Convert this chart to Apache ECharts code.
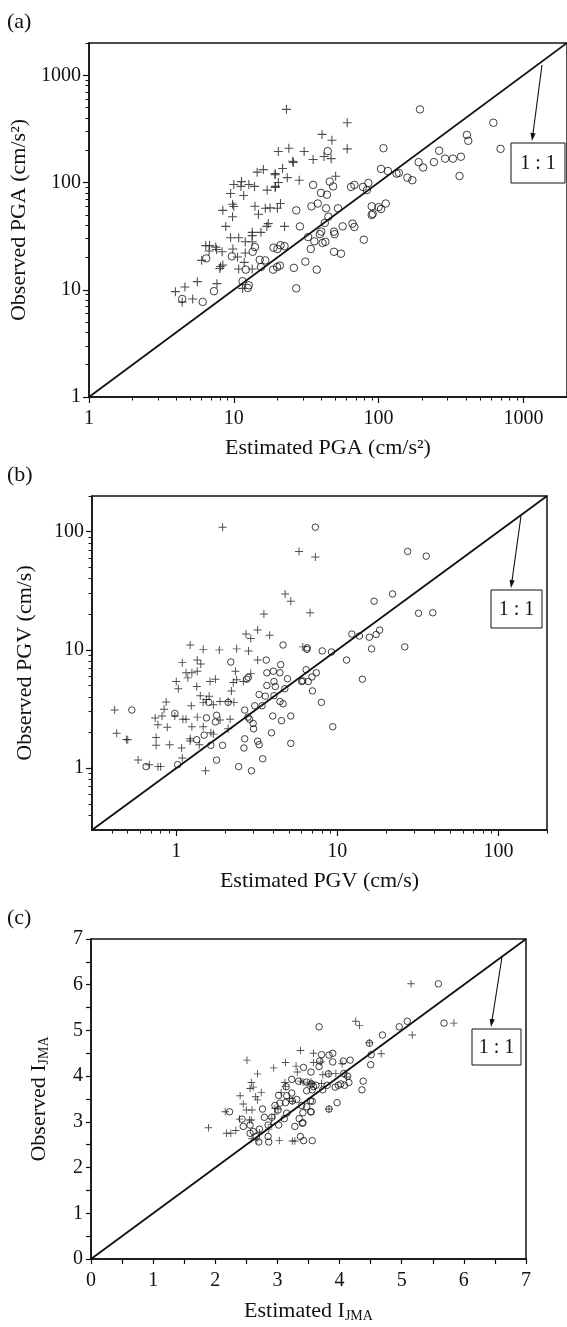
<!DOCTYPE html>
<html>
<head>
<meta charset="utf-8">
<script src="https://cdn.jsdelivr.net/npm/echarts@6.0.0/dist/echarts.min.js"></script>
<style>
html, body { margin: 0; padding: 0; background: #fff; }
#chart { width: 567px; height: 1327px; }
</style>
</head>
<body>
<div id="chart"></div>
<script>
// (a) PGA, cm/s^2  [estimated, observed]
var pgaCross = [
  [23.1,481],[40.7,281],[60.7,361],[47.6,248],[60.7,206],[20.3,195],[24,209],[30.6,195],[35.3,164],[42,175],
  [47,167],[25.8,154],[25.5,158],[21.7,135],[14.5,125],[16,132],[19.3,121],[19.3,118],[23.4,111],[28.3,105],
  [20.3,100],[19.4,92],[19.3,90],[11.3,102],[10,96],[11.2,92],[12.7,96],[13.9,92],[9.5,79],[11.7,75.6],
  [17,85],[50.5,114.6],[8.4,55],[9.8,62.7],[10,59.7],[9.8,48],[14,60],[14.8,50.6],[16.5,57.5],[17.8,58],
  [20,57.5],[21,63.7],[8.8,39],[17.3,41.4],[16.9,39],[22.4,39],[15.4,34.3],[13.4,34.3],[13.4,32],[9.5,30.6],
  [10.8,30.6],[12,28],[13.4,28],[6.4,25.8],[6.8,25.8],[7.5,25],[7.6,23.7],[8.3,22.6],[6.75,23],[9.85,24],
  [12,22],[10.6,20.2],[11.8,18],[6.0,18.8],[13.4,15.6],[10.8,15.6],[8.1,16.5],[8.4,17],[8.0,15.8],[5.6,11.9],
  [7.65,11.4],[4.6,10.6],[3.95,9.6],[5.2,8.2],[4.4,7.7],[11.5,10.3]
];
var pgaCircle = [
  [193,481],[620,361],[407,278],[416,245],[695,206],[108,209],[44.5,196],[262,198],[189,155],[203,138],
  [241,155],[288,167],[326,167],[370,174],[362,115],[104,134],[116,128],[133,121],[138,123],[158,111],
  [171,105],[35.3,95],[46,102],[48.5,92],[40,80],[44,77],[64.5,91],[68,95],[78,91],[85,99],
  [83,85],[34.4,60],[38,63.7],[43.4,57.5],[52.4,57.5],[89.6,60],[100,59],[112,63.7],[91,51],[27,55],
  [45,48],[104,56.6],[89.6,49.8],[28.6,39],[42.5,42],[32.6,31],[40.2,34.8],[39.3,33],[36,28.3],[41,27.3],
  [42.9,28],[34,24],[31.2,18.3],[37.4,15.4],[49.2,34.8],[49.7,33],[56.5,39],[66,41.4],[68,38.5],[49.2,22.6],
  [55,21.7],[79,29.3],[27,10.3],[18.8,24.7],[20,24],[21,26],[22.4,25.5],[26,16],[18.7,15.4],[19.9,16.3],
  [20.8,16.8],[15.1,19],[16.5,18.8],[15.4,16.3],[13.5,22.6],[14,25],[9.7,20.5],[6.45,19.6],[12.1,15.4],[11.5,12],
  [12.7,11],[12.5,10.4],[7.3,9.7],[6.1,7.7],[4.4,8.2]
];

// (b) PGV, cm/s
var pgvCross = [
  [1.94,109],[5.78,68],[7.3,61],[4.74,29.7],[5.14,25.8],[3.5,20.1],[6.77,20.6],[2.71,13.6],[2.9,12.5],[3.2,14.7],
  [3.8,13.3],[1.22,11.0],[1.47,10.1],[1.85,10],[2.37,10.2],[6.1,10.6],[2.81,9.8],[1.09,7.8],[1.35,8.2],[1.42,7.6],
  [3.2,8.2],[1.15,6.4],[1.25,6.4],[1.35,6.6],[1.18,5.8],[2.33,6.6],[1.0,5.4],[1.03,4.7],[1.62,5.4],[1.75,5.65],
  [2.26,5.3],[2.37,5.6],[2.61,5.4],[2.9,6.3],[1.34,4.9],[2.2,4.5],[1.41,4.1],[1.6,4.06],[1.24,3.37],[1.47,3.6],
  [1.7,3.43],[1.87,3.66],[2.1,3.66],[2.28,3.6],[1.54,3.8],[0.866,3.63],[0.84,3.15],[0.415,3.1],[0.74,2.66],[0.816,2.76],
  [0.77,2.33],[0.88,2.22],[0.75,1.82],[0.98,2.76],[1.1,2.59],[1.15,2.59],[1.35,2.7],[1.25,2.24],[1.47,2.24],[1.64,1.99],
  [1.7,1.94],[1.22,1.77],[1.22,1.7],[1.39,1.58],[2.16,2.59],[2.1,2.15],[1.87,2.55],[0.427,1.97],[0.49,1.75],[0.5,1.74],
  [0.75,1.56],[0.91,1.58],[1.08,1.48],[0.58,1.17],[0.68,1.07],[0.77,1.03],[0.8,1.03],[1.09,1.22],[1.52,0.95]
];
var pgvCircle = [
  [7.3,109],[4.6,11],[6.5,10.4],[27.3,68],[35.6,62],[22,29.7],[16.9,25.8],[31.9,20.4],[39.1,20.6],[12.3,13.6],
  [13.7,13.1],[15.8,12.8],[17.4,13.5],[18.3,14.7],[16.3,10.2],[26.2,10.6],[6.47,10.1],[8.05,9.8],[9.2,9.6],[11.4,8.2],
  [6.4,6.8],[7.4,6.4],[6.6,5.4],[6.0,5.4],[7.0,4.5],[7.96,3.6],[14.3,5.65],[9.36,2.24],[0.53,3.1],[0.65,1.03],
  [1.02,1.07],[0.98,2.9],[1.54,2.66],[1.78,2.8],[1.75,2.46],[1.59,3.6],[2.1,3.6],[2.18,7.9],[3.62,8.2],[3.65,6.4],
  [4.0,6.6],[4.45,7.5],[4.4,6.4],[2.74,5.65],[2.8,5.86],[4.04,5.4],[3.65,5.0],[4.12,4.9],[4.72,4.7],[4.9,5.7],
  [3.27,4.2],[3.57,4.06],[4.04,4.1],[4.4,3.66],[4.6,3.5],[3.07,3.37],[3.41,3.37],[2.66,3.1],[2.85,2.59],[3.0,2.39],
  [3.02,2.15],[2.79,2.7],[3.97,2.76],[4.5,2.52],[5.14,2.76],[3.9,1.99],[2.66,1.77],[2.63,1.48],[3.2,1.69],[3.27,1.58],
  [5.14,1.62],[3.44,1.2],[2.44,1.03],[2.93,0.95],[1.34,1.74],[1.49,1.9],[1.64,1.56],[1.94,1.56],[1.78,1.17],[6.95,5.9],
  [6.1,5.47]
];

// (c) JMA seismic intensity
var jmaCross = [
  [3.37,4.56],[3.58,4.5],[3.58,4.3],[2.51,4.35],[2.68,4.05],[2.94,4.18],[3.13,4.3],[3.3,4.22],[3.32,4.09],[3.12,3.86],
  [2.58,3.86],[2.61,3.76],[2.56,3.73],[2.74,3.64],[2.65,3.55],[2.68,3.48],[2.4,3.57],[2.45,3.39],[2.5,3.26],[2.59,3.26],
  [2.58,3.04],[2.55,3.04],[2.16,3.22],[2.39,3.06],[1.89,2.87],[2.18,2.75],[2.25,2.75],[2.33,2.81],[2.59,2.63],[2.67,2.6],
  [2.71,2.76],[2.86,2.84],[2.9,2.94],[2.91,3.07],[2.96,3.29],[3.01,3.28],[2.96,3.17],[3.03,2.59],[3.24,2.58],[3.28,2.58],
  [3.06,3.64],[3.13,3.77],[3.19,3.51],[3.24,3.45],[3.37,3.89],[3.41,3.87],[3.54,3.87],[3.56,3.83],[5.15,6.02],[5.84,5.16],
  [4.26,5.2],[4.32,5.11],[5.17,4.9],[4.67,4.49],[3.7,4.31],[3.73,4.03],[3.83,4.05],[3.71,3.84],[3.94,4.06],[4.04,4.27],
  [4.11,3.98],[3.48,3.83],[3.83,3.28],[4.48,4.73]
];
var jmaCircle = [
  [3.42,4.19],[3.54,4.09],[3.23,3.93],[3.34,3.89],[3.47,3.87],[3.47,3.68],[3.58,3.77],[3.14,3.77],[3.02,3.58],[3.15,3.57],
  [3.23,3.63],[3.04,3.41],[2.96,3.36],[3.01,3.26],[3.13,3.42],[3.24,3.46],[3.31,3.49],[3.39,3.36],[3.47,3.33],[3.56,3.45],
  [3.15,3.19],[3.35,3.07],[3.41,2.98],[3.54,3.22],[3.28,2.9],[3.11,3.07],[3.02,2.93],[2.91,3.1],[2.76,3.28],[2.79,3.1],
  [2.85,2.93],[2.85,2.68],[2.86,2.56],[2.7,2.56],[2.66,2.68],[2.43,3.06],[2.45,2.9],[2.56,2.93],[2.56,2.75],[2.61,2.79],
  [2.71,2.84],[2.23,3.22],[3.42,2.59],[3.56,2.59],[5.59,6.02],[5.68,5.16],[3.67,5.08],[4.96,5.08],[5.09,5.2],[4.69,4.9],
  [4.48,4.72],[4.51,4.47],[4.5,4.25],[4.06,4.33],[4.17,4.35],[3.89,4.5],[3.89,4.31],[3.71,4.47],[3.68,4.33],[3.83,4.46],
  [3.67,4.21],[3.82,4.05],[4.07,4.06],[4.13,4.0],[3.98,3.8],[4.08,3.8],[3.93,3.76],[4.02,3.83],[4.15,3.86],[3.55,3.83],
  [3.62,3.8],[3.56,3.7],[3.73,3.7],[3.8,3.8],[4.38,3.89],[4.36,3.7],[3.96,3.42],[3.83,3.28],[3.53,3.46],[3.41,3.2],
  [3.54,3.22],[3.4,2.97],[3.37,2.68]
];

// axis ranges and ticks
var pgaRange = [1, 2000];
var pgvRange = [0.3, 200];
var jmaRange = [0, 7];
var pgaMajor = [1, 10, 100, 1000];
var pgaMinor = [2,3,4,5,6,7,8,9,20,30,40,50,60,70,80,90,200,300,400,500,600,700,800,900,2000];
var pgvMajor = [1, 10, 100];
var pgvMinor = [0.4,0.5,0.6,0.7,0.8,0.9,2,3,4,5,6,7,8,9,20,30,40,50,60,70,80,90,200];

var chart = echarts.init(document.getElementById('chart'));
var FONT = '"Liberation Serif", "Times New Roman", serif';
var INK = '#111';
var crossPath = 'path://M0,4.4H10V5.6H0Z M4.4,0H5.6V10H4.4Z';

function majorAxis(grid, range, major, name, gap, isY) {
    return {
        type: 'log', logBase: 10, gridIndex: grid, min: range[0], max: range[1],
        position: isY ? 'left' : 'bottom',
        name: name, nameLocation: 'middle', nameGap: gap,
        nameTextStyle: { fontFamily: FONT, fontSize: 22, color: INK },
        axisLine: { lineStyle: { color: INK, width: 1.5 } },
        axisTick: { customValues: major, length: 6, lineStyle: { color: INK, width: 1.2 } },
        axisLabel: { customValues: major, fontFamily: FONT, fontSize: 20, color: INK, margin: isY ? 8 : 12,
                     formatter: function (v) { return String(v); } },
        splitLine: { show: false }
    };
}
// second axis on the same grid, only used for the 2..9 ticks
function minorAxis(grid, range, minorTicks, isY) {
    return {
        type: 'log', logBase: 10, gridIndex: grid, min: range[0], max: range[1],
        position: isY ? 'left' : 'bottom', offset: 0,
        axisLine: { show: false },
        axisTick: { customValues: minorTicks, length: 3.5, lineStyle: { color: INK, width: 1 } },
        axisLabel: { show: false },
        splitLine: { show: false }
    };
}
function linearAxis(grid, name, gap, isY) {
    return {
        type: 'value', gridIndex: grid, min: jmaRange[0], max: jmaRange[1], interval: 1,
        position: isY ? 'left' : 'bottom',
        name: name, nameLocation: 'middle', nameGap: gap,
        nameTextStyle: { fontFamily: FONT, fontSize: 22, color: INK,
                         rich: { s: { fontFamily: FONT, fontSize: 14, color: INK, padding: [10, 0, 0, 0] } } },
        axisLine: { lineStyle: { color: INK, width: 1.5 } },
        axisTick: { length: 5, lineStyle: { color: INK, width: 1.2 } },
        minorTick: { show: true, splitNumber: 2, length: 5, lineStyle: { color: INK, width: 1.2 } },
        axisLabel: { fontFamily: FONT, fontSize: 20, color: INK, margin: isY ? 8 : 12 },
        splitLine: { show: false }
    };
}

function crosses(data, ax, size) {
    return { type: 'scatter', xAxisIndex: ax, yAxisIndex: ax, data: data, symbol: crossPath,
             symbolSize: size, itemStyle: { color: '#222' }, silent: true };
}
function circles(data, ax, size) {
    return { type: 'scatter', xAxisIndex: ax, yAxisIndex: ax, data: data, symbol: 'circle',
             symbolSize: size, itemStyle: { color: 'rgba(0,0,0,0)', borderColor: '#111', borderWidth: 1 }, silent: true };
}
function oneToOne(range, ax) {
    return { type: 'line', xAxisIndex: ax, yAxisIndex: ax, data: [[range[0], range[0]], [range[1], range[1]]],
             showSymbol: false, symbol: 'none', silent: true, lineStyle: { color: INK, width: 1.8 } };
}

function arrow(x1, y1, x2, y2) {
    var a = Math.atan2(y2 - y1, x2 - x1), L = 8, W = 2.6;
    var c = Math.cos(a), s = Math.sin(a);
    return [
        { type: 'line', shape: { x1: x1, y1: y1, x2: x2 - L * c * 0.6, y2: y2 - L * s * 0.6 }, style: { stroke: INK, lineWidth: 1.1 } },
        { type: 'polygon', shape: { points: [[x2, y2], [x2 - L * c + W * s, y2 - L * s - W * c], [x2 - L * c - W * s, y2 - L * s + W * c]] },
          style: { fill: INK } }
    ];
}
function ratioBox(x, y, w, h) {
    return [
        { type: 'rect', shape: { x: x, y: y, width: w, height: h }, style: { fill: '#fff', stroke: INK, lineWidth: 1 } },
        { type: 'text', x: x + w / 2, y: y + h / 2 + 1,
          style: { text: '1 : 1', font: '20px ' + FONT, fill: INK, textAlign: 'center', textVerticalAlign: 'middle' } }
    ];
}
function panelTag(t, x, y) {
    return { type: 'text', x: x, y: y, style: { text: t, font: '22px ' + FONT, fill: INK, textVerticalAlign: 'middle' } };
}

var graphics = [panelTag('(a)', 7, 22), panelTag('(b)', 7, 475), panelTag('(c)', 7, 918)]
    .concat(arrow(542, 65, 532, 141), ratioBox(511, 143, 54, 40))
    .concat(arrow(521, 516, 511, 588), ratioBox(491, 590, 51, 38))
    .concat(arrow(502, 957, 491, 1027), ratioBox(472, 1029, 49, 36));

var option = {
    backgroundColor: '#fff',
    animation: false,
    grid: [
        { left: 89, top: 43, width: 482, height: 354, show: true, borderColor: INK, borderWidth: 1.5, backgroundColor: 'transparent' },
        { left: 92, top: 496, width: 455, height: 334, show: true, borderColor: INK, borderWidth: 1.5, backgroundColor: 'transparent' },
        { left: 91, top: 939, width: 435, height: 320, show: true, borderColor: INK, borderWidth: 1.5, backgroundColor: 'transparent' }
    ],
    xAxis: [
        majorAxis(0, pgaRange, pgaMajor, 'Estimated PGA (cm/s²)', 40, false),
        minorAxis(0, pgaRange, pgaMinor, false),
        majorAxis(1, pgvRange, pgvMajor, 'Estimated PGV (cm/s)', 40, false),
        minorAxis(1, pgvRange, pgvMinor, false),
        linearAxis(2, 'Estimated I{s|JMA}', 40, false)
    ],
    yAxis: [
        majorAxis(0, pgaRange, pgaMajor, 'Observed PGA (cm/s²)', 56, true),
        minorAxis(0, pgaRange, pgaMinor, true),
        majorAxis(1, pgvRange, pgvMajor, 'Observed PGV (cm/s)', 56, true),
        minorAxis(1, pgvRange, pgvMinor, true),
        linearAxis(2, 'Observed I{s|JMA}', 40, true)
    ],
    graphic: graphics,
    series: [
        oneToOne(pgaRange, 0), crosses(pgaCross, 0, 9), circles(pgaCircle, 0, 7.5),
        oneToOne(pgvRange, 2), crosses(pgvCross, 2, 8), circles(pgvCircle, 2, 6.5),
        oneToOne(jmaRange, 4), crosses(jmaCross, 4, 7.5), circles(jmaCircle, 4, 6.5)
    ]
};
chart.setOption(option);
</script>
</body>
</html>
